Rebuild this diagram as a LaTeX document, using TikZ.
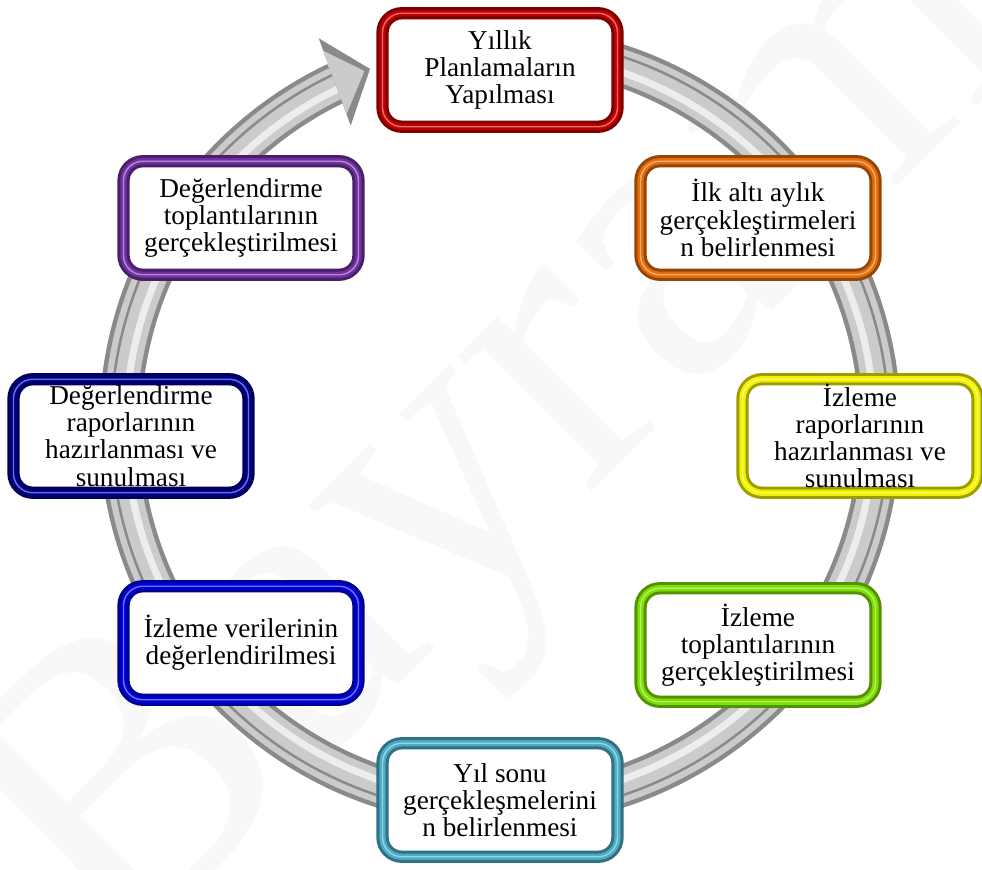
\documentclass[tikz,border=0pt]{standalone}
\usepackage{fontspec}
\setmainfont{Liberation Serif}
\usetikzlibrary{shadows}
\definecolor{StageRed}{HTML}{C00000}
\definecolor{StageOrange}{HTML}{E46C0A}
\definecolor{StageYellow}{HTML}{F2F200}
\definecolor{StageGreen}{HTML}{7EE000}
\definecolor{StageCyan}{HTML}{4BACC6}
\definecolor{StageBlue}{HTML}{0000DD}
\definecolor{StageNavy}{HTML}{00008C}
\definecolor{StagePurple}{HTML}{7030A0}
\definecolor{RingEdge}{HTML}{8A8A8A}
\definecolor{RingBody}{HTML}{CBCBCB}
\definecolor{RingShine}{HTML}{EDEDED}
\definecolor{MarkGray}{HTML}{F8F8F8}
\tikzset{
  stagebox/.style={draw=#1!65!black, line width=7pt, rounded corners=11pt, fill=white,
    minimum width=4.7cm, minimum height=2.27cm, inner sep=1pt, align=center,
    font=\fontsize{15.5}{15.5}\selectfont, text=black,
    drop shadow={shadow xshift=1.5pt, shadow yshift=-2pt, opacity=0.35},
    postaction={draw=#1, line width=3.6pt},
    postaction={draw=#1!55!white, line width=0.8pt}},
  ringedge/.style={draw=RingEdge, line width=0.84cm},
  ringbody/.style={draw=RingBody, line width=0.66cm},
  ringline/.style={draw=RingEdge, line width=0.05cm},
  ringshine/.style={draw=RingShine, line width=0.14cm},
  markword/.style={text=MarkGray, inner sep=0pt, font=\fontsize{236}{236}\selectfont},
}
\begin{document}
\begin{tikzpicture}
  \useasboundingbox (0,0) rectangle (19.64,17.38);
  \begin{scope}
    \clip (0,0) rectangle (19.64,17.38);
    \node[markword, anchor=base west, rotate=45] (mark) at (2.27,-2.03) {Bayram};
  \end{scope}
  \coordinate (ctr) at (10.0,8.86);
  \draw[ringedge] (ctr) ++(85:7.6) arc[start angle=85, end angle=-244.5, radius=7.6];
  \draw[ringbody] (ctr) ++(85:7.6) arc[start angle=85, end angle=-244.5, radius=7.6];
  \draw[ringline] (ctr) ++(85:7.78) arc[start angle=85, end angle=-244.5, radius=7.78];
  \draw[ringshine] (ctr) ++(85:7.48) arc[start angle=85, end angle=-244.5, radius=7.48];
  \begin{scope}[shift={(ctr)}]
    \fill[RingEdge] (115.06:8.56) -- (110:7.6) -- (116.43:6.71) -- cycle;
    \fill[RingBody] (115.25:8.3) -- (110.9:7.6) -- (116.2:6.95) -- cycle;
  \end{scope}
  \node[stagebox=StageRed] (plan) at (10.0,15.98) {Yıllık\\Planlamaların\\Yapılması};
  \node[stagebox=StageOrange] (half) at (15.16,13.02) {İlk altı aylık\\gerçekleştirmeleri\\n belirlenmesi};
  \node[stagebox=StageYellow] (report) at (17.2,8.66) {İzleme\\raporlarının\\hazırlanması ve\\sunulması};
  \node[stagebox=StageGreen] (meet) at (15.16,4.48) {İzleme\\toplantılarının\\gerçekleştirilmesi};
  \node[stagebox=StageCyan] (yearend) at (10.0,1.38) {Yıl sonu\\gerçekleşmelerini\\n belirlenmesi};
  \node[stagebox=StageBlue] (data) at (4.82,4.52) {İzleme verilerinin\\değerlendirilmesi};
  \node[stagebox=StageNavy] (evalrep) at (2.62,8.66) {Değerlendirme\\raporlarının\\hazırlanması ve\\sunulması};
  \node[stagebox=StagePurple] (evalmeet) at (4.82,13.02) {Değerlendirme\\toplantılarının\\gerçekleştirilmesi};
\end{tikzpicture}
\end{document}
